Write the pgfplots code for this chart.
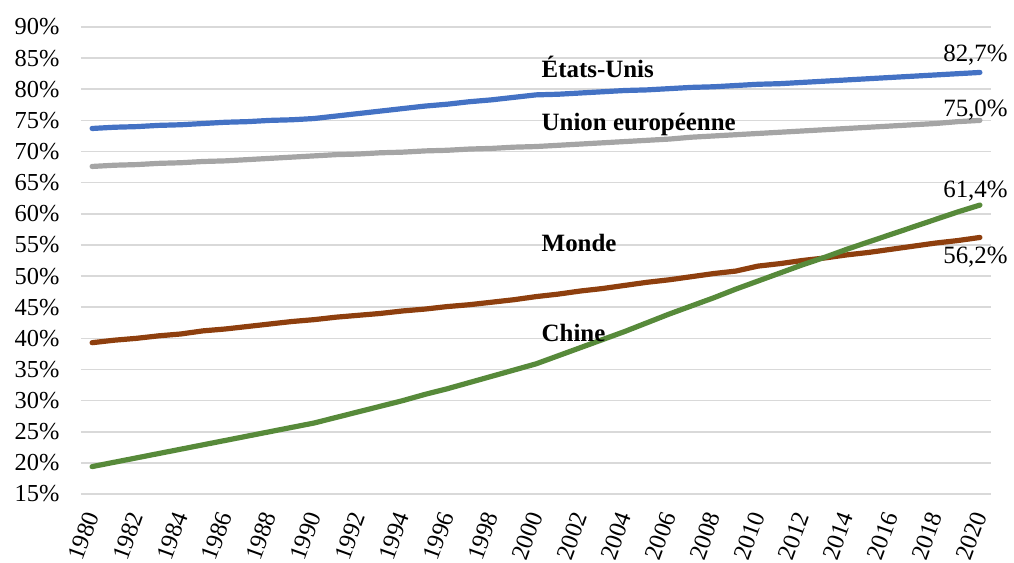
\documentclass[border=0pt]{standalone}
\usepackage{fontspec}
\setmainfont{Liberation Serif}
\usepackage{pgfplots}
\usepackage{pgfplotstable}
\pgfplotsset{compat=1.18}
\definecolor{cUS}{HTML}{4472C4}
\definecolor{cUE}{HTML}{A5A5A5}
\definecolor{cMO}{HTML}{8E3F0E}
\definecolor{cCN}{HTML}{578A3A}
\definecolor{cGrid}{HTML}{D9D9D9}

\pgfplotstableread{
year US UE Monde Chine
1980 73.7 67.6 39.3 19.4
1981 73.9 67.8 39.7 20.1
1982 74.0 67.9 40.0 20.8
1983 74.2 68.1 40.4 21.5
1984 74.3 68.2 40.7 22.2
1985 74.5 68.4 41.2 22.9
1986 74.7 68.5 41.5 23.6
1987 74.8 68.7 41.9 24.3
1988 75.0 68.9 42.3 25.0
1989 75.1 69.1 42.7 25.7
1990 75.3 69.3 43.0 26.4
1991 75.7 69.5 43.4 27.3
1992 76.1 69.6 43.7 28.2
1993 76.5 69.8 44.0 29.1
1994 76.9 69.9 44.4 30.0
1995 77.3 70.1 44.7 31.0
1996 77.6 70.2 45.1 31.9
1997 78.0 70.4 45.4 32.9
1998 78.3 70.5 45.8 33.9
1999 78.7 70.7 46.2 34.9
2000 79.1 70.8 46.7 35.9
2001 79.2 71.0 47.1 37.2
2002 79.4 71.2 47.6 38.5
2003 79.6 71.4 48.0 39.8
2004 79.8 71.6 48.5 41.1
2005 79.9 71.8 49.0 42.5
2006 80.1 72.0 49.4 43.9
2007 80.3 72.3 49.9 45.2
2008 80.4 72.5 50.4 46.5
2009 80.6 72.7 50.8 47.9
2010 80.8 72.9 51.6 49.2
2011 80.9 73.1 52.0 50.5
2012 81.1 73.3 52.5 51.8
2013 81.3 73.5 52.9 53.0
2014 81.5 73.7 53.4 54.3
2015 81.7 73.9 53.8 55.5
2016 81.9 74.1 54.3 56.7
2017 82.1 74.3 54.8 57.9
2018 82.3 74.5 55.3 59.1
2019 82.5 74.8 55.7 60.3
2020 82.7 75.0 56.2 61.4
}\data

\begin{document}
\begin{tikzpicture}
\begin{axis}[
  scale only axis,
  width=910bp, height=467bp,
  xmin=1979.5, xmax=2020.5,
  ymin=15, ymax=90,
  axis line style={draw=none},
  clip=false,
  ytick={15,20,...,90},
  xtick={1980,1982,...,2020},
  ymajorgrids,
  grid style={cGrid, line width=1.6bp},
  major tick length=0pt,
  tick style={draw=none},
  tick label style={font=\fontsize{24.5}{28}\selectfont},
  /pgf/number format/assume math mode=true,
  xticklabel={\pgfmathprintnumber[1000 sep={}]{\tick}},
  yticklabel={\pgfmathprintnumber{\tick}\%},
  xticklabel style={yshift=-16bp, xshift=1bp, rotate=70, anchor=east},
  yticklabel style={anchor=east, xshift=-18bp},
  every axis plot/.append style={line width=5.2bp, line cap=round, line join=round, mark=none},
]
\addplot[cMO] table[x=year, y=Monde] {\data};
\addplot[cCN] table[x=year, y=Chine] {\data};
\addplot[cUE] table[x=year, y=UE] {\data};
\addplot[cUS] table[x=year, y=US] {\data};

\node[anchor=west, font=\fontsize{25}{28}\selectfont\bfseries] at (axis cs:2000.1,83.6) {États-Unis};
\node[anchor=west, font=\fontsize{25}{28}\selectfont\bfseries] at (axis cs:2000.1,74.3) {Union européenne};
\node[anchor=west, font=\fontsize{25}{28}\selectfont\bfseries] at (axis cs:2000.1,55.3) {Monde};
\node[anchor=west, font=\fontsize{25}{28}\selectfont\bfseries] at (axis cs:2000.1,40.9) {Chine};

\node[font=\fontsize{25}{28}\selectfont] at (axis cs:2019.8,85.5) {82,7\%};
\node[font=\fontsize{25}{28}\selectfont] at (axis cs:2019.8,76.7) {75,0\%};
\node[font=\fontsize{25}{28}\selectfont] at (axis cs:2019.8,63.7) {61,4\%};
\node[font=\fontsize{25}{28}\selectfont] at (axis cs:2019.8,53.0) {56,2\%};
\end{axis}
\pgfresetboundingbox
\path[use as bounding box] ([xshift=-81bp,yshift=-69bp]current axis.south west) rectangle ([xshift=23bp,yshift=27bp]current axis.north east);
\end{tikzpicture}
\end{document}
